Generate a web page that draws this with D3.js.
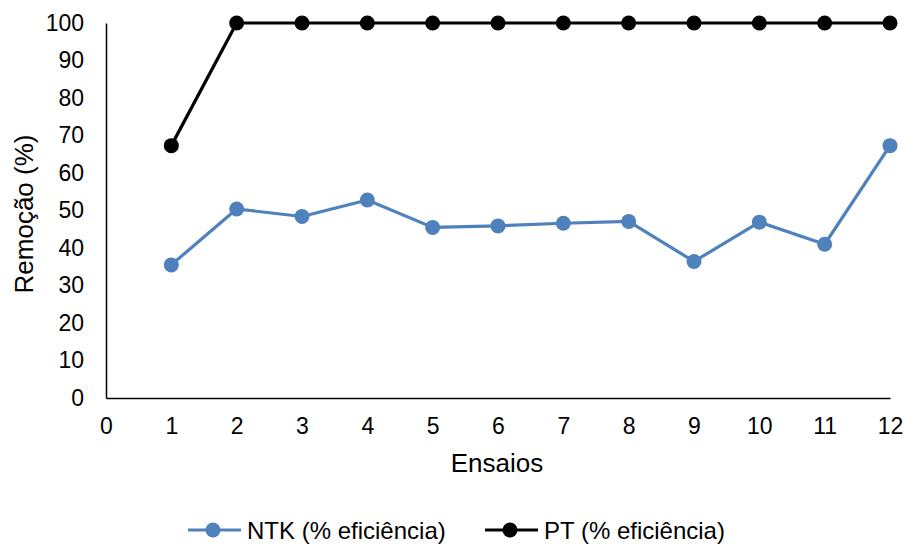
<!DOCTYPE html>
<html>
<head>
<meta charset="utf-8">
<script src="https://cdn.jsdelivr.net/npm/d3@7"></script>
<style>
  body { margin: 0; background: #fff; }
  svg text { font-family: "Liberation Sans", Arial, sans-serif; fill: #000; }
</style>
</head>
<body>
<svg id="chart" width="906" height="544"></svg>
<script>
// Ensaios (trial number) and removal efficiency per trial
const ensaios = [1, 2, 3, 4, 5, 6, 7, 8, 9, 10, 11, 12];
const ntk = [35.5, 50.4, 48.4, 52.8, 45.5, 45.9, 46.6, 47.1, 36.4, 46.9, 41.0, 67.3];
const pt = [67.3, 100, 100, 100, 100, 100, 100, 100, 100, 100, 100, 100];
const xTicks = [0, 1, 2, 3, 4, 5, 6, 7, 8, 9, 10, 11, 12];
const yTicks = [0, 10, 20, 30, 40, 50, 60, 70, 80, 90, 100];
const seriesNames = ["NTK (% eficiência)", "PT (% eficiência)"];
const seriesColors = ["#4F81BD", "#000000"];

const svg = d3.select("#chart");
const plotLeft = 106, plotRight = 890, plotTop = 23, plotBottom = 398;

const x = d3.scaleLinear().domain([0, 12]).range([plotLeft, plotRight]);
const y = d3.scaleLinear().domain([0, 100]).range([plotBottom, plotTop]);

// Axes
const xAxis = svg.append("g").attr("transform", `translate(0,${plotBottom})`)
  .call(d3.axisBottom(x).tickValues(xTicks).tickSize(0).tickPadding(20).tickFormat(d3.format("d")));
const yAxis = svg.append("g").attr("transform", `translate(${plotLeft},0)`)
  .call(d3.axisLeft(y).tickValues(yTicks).tickSize(0).tickPadding(22).tickFormat(d3.format("d")));
[xAxis, yAxis].forEach(g => {
  g.select(".domain").attr("stroke", "#000").attr("stroke-width", 1.5);
  g.selectAll("text").attr("font-size", 23).attr("font-family", "Liberation Sans, Arial, sans-serif");
});

// Axis titles
svg.append("text").attr("x", 497).attr("y", 472)
  .attr("text-anchor", "middle").attr("font-size", 26).text("Ensaios");
svg.append("text").attr("transform", `translate(33,214) rotate(-90)`)
  .attr("text-anchor", "middle").attr("font-size", 26).text("Remoção (%)");

// Series
const line = d3.line().x(d => x(d[0])).y(d => y(d[1]));
[ntk, pt].forEach((vals, i) => {
  const pts = ensaios.map((e, j) => [e, vals[j]]);
  svg.append("path").datum(pts).attr("d", line)
    .attr("fill", "none").attr("stroke", seriesColors[i]).attr("stroke-width", 3.2)
    .attr("stroke-linejoin", "round");
  svg.append("g").selectAll("circle").data(pts).join("circle")
    .attr("cx", d => x(d[0])).attr("cy", d => y(d[1])).attr("r", 7.5)
    .attr("fill", seriesColors[i]);
});

// Legend
const legendY = 530;
const legendX = [188, 485];
seriesNames.forEach((name, i) => {
  const g = svg.append("g").attr("transform", `translate(${legendX[i]},${legendY})`);
  g.append("line").attr("x1", 0).attr("x2", 53).attr("y1", 0).attr("y2", 0)
    .attr("stroke", seriesColors[i]).attr("stroke-width", 3.2);
  g.append("circle").attr("cx", 25).attr("cy", 0).attr("r", 7.5).attr("fill", seriesColors[i]);
  g.append("text").attr("x", 59).attr("y", 9).attr("font-size", 24).text(name);
});
</script>
</body>
</html>
